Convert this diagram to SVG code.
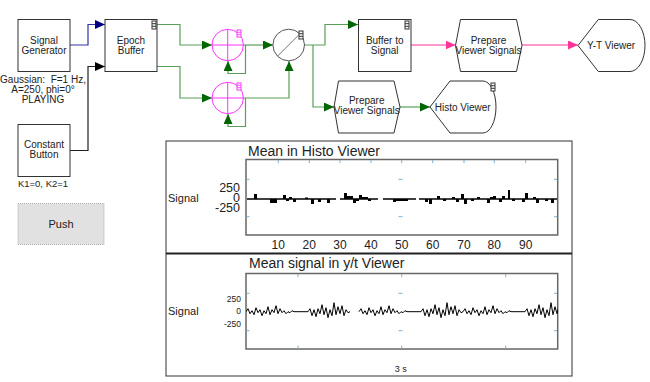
<svg xmlns="http://www.w3.org/2000/svg" width="650" height="382" viewBox="0 0 650 382">
<style>
text{font-family:"Liberation Sans",Arial,sans-serif;fill:#222}
.n{font-size:10px;text-anchor:middle}
.box{fill:#fff;stroke:#333;stroke-width:1}
.icon{fill:#fff;stroke:#333;stroke-width:1}
.g{fill:none;stroke:#5a9e5a;stroke-width:1.2}
.p{fill:none;stroke:#ff3399;stroke-width:1.2}
.add{fill:none;stroke:#ff33ff;stroke-width:1}
.tk{stroke:#7ab0d0;stroke-width:1}
.plot{fill:#fff;stroke:#666;stroke-width:1.5}
</style>
<defs>
<marker id="ag" markerUnits="userSpaceOnUse" markerWidth="11" markerHeight="10" refX="10" refY="4.5" orient="auto"><path d="M0,0 L10,4.5 L0,9 Z" fill="#006600"/></marker>
<marker id="ap" markerUnits="userSpaceOnUse" markerWidth="11" markerHeight="10" refX="10" refY="4.5" orient="auto"><path d="M0,0 L10,4.5 L0,9 Z" fill="#ff3399"/></marker>
<marker id="ab" markerUnits="userSpaceOnUse" markerWidth="11" markerHeight="10" refX="10" refY="4.5" orient="auto"><path d="M0,0 L10,4.5 L0,9 Z" fill="#000080"/></marker>
<marker id="ak" markerUnits="userSpaceOnUse" markerWidth="11" markerHeight="10" refX="10" refY="4.5" orient="auto"><path d="M0,0 L10,4.5 L0,9 Z" fill="#000"/></marker>
<g id="ico"><rect class="icon" x="0" y="0" width="4" height="8"/><path d="M0,2.7 H4 M0,5.3 H4" stroke="#333" stroke-width="1"/></g>
<clipPath id="c2"><rect x="246" y="273" width="312" height="76"/></clipPath>
</defs>
<rect width="650" height="382" fill="#fff"/>

<g id="connectors">
<path d="M70 45 H88 V24.5 H105" fill="none" stroke="#3333aa" stroke-width="1.2" marker-end="url(#ab)"/>
<path d="M70 150.5 H88 V66.5 H105" fill="none" stroke="#222" stroke-width="1.2" marker-end="url(#ak)"/>
<path class="g" d="M157 24.5 H180 V45 H212" marker-end="url(#ag)"/>
<path class="g" d="M157 66.5 H180 V98 H212" marker-end="url(#ag)"/>
<path class="g" d="M243.5 45 H273" marker-end="url(#ag)"/>
<path class="g" d="M245.5 45 V73.5 H228 V61" marker-end="url(#ag)"/>
<path class="g" d="M243.5 98 H289 V61" marker-end="url(#ag)"/>
<path class="g" d="M245.5 98 V126.5 H228 V114" marker-end="url(#ag)"/>
<path class="g" d="M304.5 45 H325 V24.5 H358" marker-end="url(#ag)"/>
<path class="g" d="M313 45 V107 H334" marker-end="url(#ag)"/>
<path class="p" d="M411 45 H455.5" marker-end="url(#ap)"/>
<path class="p" d="M522 45 H578" marker-end="url(#ap)"/>
<path class="g" d="M400 107 H430" marker-end="url(#ag)"/>
</g>

<g id="signal-generator">
<rect class="box" x="18" y="19.5" width="52" height="52"/>
<text class="n" x="44" y="43.5">Signal</text>
<text class="n" x="44" y="53.5">Generator</text>
<text class="n" x="43" y="82.5">Gaussian:&#160; F=1 Hz,</text>
<text class="n" x="43" y="92.5">A=250, phi=0°</text>
<text class="n" x="43" y="102.5">PLAYING</text>
</g>

<g id="constant-button">
<rect class="box" x="18" y="124.5" width="52" height="52"/>
<text class="n" x="44" y="147.5">Constant</text>
<text class="n" x="44" y="157.5">Button</text>
<text class="n" x="43" y="186.5" style="font-size:9.5px">K1=0, K2=1</text>
</g>

<g id="push-button">
<rect x="18" y="203.5" width="86" height="41" fill="#e1e1e1" stroke="#aaa" stroke-width="1" stroke-dasharray="1,1"/>
<text class="n" x="61" y="228" style="font-size:11px">Push</text>
</g>

<g id="epoch-buffer">
<rect class="box" x="105" y="19.5" width="52" height="52"/>
<text class="n" x="131" y="43.5">Epoch</text>
<text class="n" x="131" y="53.5">Buffer</text>
<use href="#ico" x="152" y="21"/>
</g>

<g id="adder-1">
<circle class="add" cx="227.7" cy="45" r="15.7"/>
<path class="add" d="M212 45 H243.4 M227.7 29.3 V60.7"/>
<rect x="237" y="30" width="4" height="7" fill="#fff" stroke="#ff33ff" stroke-width="1"/>
<path d="M237 32.3 H241 M237 34.6 H241" stroke="#ff33ff" stroke-width="0.8"/>
</g>

<g id="adder-2">
<circle class="add" cx="227.7" cy="98" r="15.7"/>
<path class="add" d="M212 98 H243.4 M227.7 82.3 V113.7"/>
<rect x="237" y="83" width="4" height="7" fill="#fff" stroke="#ff33ff" stroke-width="1"/>
<path d="M237 85.3 H241 M237 87.6 H241" stroke="#ff33ff" stroke-width="0.8"/>
</g>

<g id="divider">
<circle cx="288.7" cy="45" r="15.8" fill="#fff" stroke="#555" stroke-width="1"/>
<path d="M277.5 56.2 L299.9 33.8" stroke="#777" stroke-width="1"/>
<use href="#ico" x="299" y="31"/>
</g>

<g id="buffer-to-signal">
<rect class="box" x="358.5" y="19.5" width="52.5" height="52"/>
<text class="n" x="384.7" y="43.5">Buffer to</text>
<text class="n" x="384.7" y="53.5">Signal</text>
<use href="#ico" x="405" y="21"/>
</g>

<g id="prepare-viewer-signals-1">
<path class="box" d="M455.5 45.5 L460.5 19.5 H516.5 L522 45.5 L516.5 71.5 H460.5 Z"/>
<text class="n" x="488.5" y="43.5">Prepare</text>
<text class="n" x="488.5" y="53.5">Viewer Signals</text>
</g>

<g id="yt-viewer">
<path class="box" d="M578 45.5 L598.3 19.5 H630 A15 26 0 0 1 630 71.5 H598.3 Z"/>
<text class="n" x="611" y="48.5">Y-T Viewer</text>
</g>

<g id="prepare-viewer-signals-2">
<path class="box" d="M334 107 L338.5 81 H394 L400 107 L394 133 H338.5 Z"/>
<text class="n" x="366.7" y="103.5">Prepare</text>
<text class="n" x="366.7" y="113.5">Viewer Signals</text>
</g>

<g id="histo-viewer">
<path class="box" d="M430 107 L450 81 H483 A13 26 0 0 1 483 133 H450 Z"/>
<text class="n" x="462.7" y="110.5">Histo Viewer</text>
<use href="#ico" x="491" y="83"/>
</g>

<g id="charts">
<rect x="166" y="141" width="406" height="235" fill="#fff" stroke="#333" stroke-width="1"/>
<line x1="166" y1="253.5" x2="572" y2="253.5" stroke="#222" stroke-width="2"/>

<text x="248" y="156" style="font-size:14px">Mean in Histo Viewer</text>
<rect class="plot" x="246" y="159.5" width="311.7" height="75.5"/>
<g class="tk">
<path d="M278.3 160 v3 M309.3 160 v3 M340 160 v3 M371 160 v3 M401.7 160 v3 M432.7 160 v3 M464 160 v3 M494.3 160 v3 M525.7 160 v3"/>
<path d="M246.5 179.3 h3 M246.5 216.7 h3 M398.5 179.3 h4 M398.5 216.7 h4 M554 179.3 h3 M554 216.7 h3"/>
</g>
<g id="histo-bars" fill="#000">
<path d="M247 199 H336 M340 199 H378 M383 199 H416 M419 199 H557" stroke="#000" stroke-width="1.5"/>
<rect x="254" y="194" width="3" height="5"/>
<rect x="270" y="199" width="7" height="4"/>
<rect x="283" y="195" width="3" height="4"/>
<rect x="286" y="199" width="3" height="2"/>
<rect x="289" y="197" width="3" height="2"/>
<rect x="293" y="199" width="3" height="3"/>
<rect x="305" y="197.5" width="3" height="1.5"/>
<rect x="311" y="199" width="3" height="5"/>
<rect x="318" y="199" width="3" height="3"/>
<rect x="327" y="199" width="3" height="4"/>
<rect x="344" y="193" width="3" height="6"/>
<rect x="347" y="196" width="6" height="3"/>
<rect x="353" y="199" width="3" height="4"/>
<rect x="356" y="199" width="3" height="2"/>
<rect x="359" y="195" width="3" height="4"/>
<rect x="362" y="197" width="6" height="2"/>
<rect x="368" y="199" width="3" height="2"/>
<rect x="393" y="199" width="3" height="3"/>
<rect x="396" y="199" width="12" height="2"/>
<rect x="425" y="199" width="3" height="3"/>
<rect x="429" y="199" width="3" height="5"/>
<rect x="437" y="196" width="3" height="3"/>
<rect x="443" y="199" width="3" height="2"/>
<rect x="452" y="197" width="3" height="2"/>
<rect x="456" y="199" width="3" height="3"/>
<rect x="461" y="194" width="3" height="5"/>
<rect x="464" y="199" width="3" height="5"/>
<rect x="471" y="199" width="3" height="2"/>
<rect x="477" y="197" width="3" height="2"/>
<rect x="487" y="199" width="3" height="4"/>
<rect x="490" y="197" width="3" height="2"/>
<rect x="493" y="196" width="3" height="3"/>
<rect x="499" y="199" width="3" height="3"/>
<rect x="502" y="196" width="3" height="3"/>
<rect x="508" y="190" width="2" height="9"/>
<rect x="512" y="199" width="3" height="2"/>
<rect x="525" y="193" width="3" height="6"/>
<rect x="522" y="199" width="3" height="3"/>
<rect x="533" y="197" width="3" height="2"/>
<rect x="536" y="199" width="3" height="4"/>
<rect x="545" y="199" width="3" height="2"/>
<rect x="551" y="199" width="3" height="4"/>
</g>
<text x="168" y="201.7" style="font-size:11px">Signal</text>
<g style="font-size:12.5px;text-anchor:end">
<text x="240" y="191.5">250</text>
<text x="240" y="202">0</text>
<text x="240" y="212">-250</text>
</g>
<g style="font-size:12px;text-anchor:middle">
<text x="278.3" y="249">10</text><text x="309.3" y="249">20</text><text x="340" y="249">30</text>
<text x="371" y="249">40</text><text x="401.7" y="249">50</text><text x="432.7" y="249">60</text>
<text x="464" y="249">70</text><text x="494.3" y="249">80</text><text x="525.7" y="249">90</text>
</g>

<text x="249" y="268" style="font-size:14px">Mean signal in y/t Viewer</text>
<rect class="plot" x="246" y="273.5" width="311.7" height="75.5"/>
<g class="tk">
<path d="M298 274 v3 M401.7 274 v3 M505.7 274 v3 M298 348.5 v-3 M401.7 348.5 v-3 M505.7 348.5 v-3"/>
<path d="M246.5 293.3 h3 M246.5 330.7 h3 M398.5 293.3 h4 M398.5 330.7 h4 M554 293.3 h3 M554 330.7 h3"/>
</g>
<g clip-path="url(#c2)">
<path id="tr" fill="none" stroke="#000" stroke-width="1" transform="translate(246,311.7)" d="M0 0 L2 -3 L4 2 L6 -1 L8 3 L10 -4 L12 1 L14 -2 L16 4 L18 -1 L20 2 L22 -5 L24 3 L26 -2 L28 1 L30 -6 L32 2 L34 -3 L36 1 L38 -1 L40 2 L42 0 L44 1 L46 -1 L48 0 L62 0 L64 -3 L66 4 L68 -2 L70 5 L72 -3 L74 2 L76 -7 L78 3 L80 -4 L82 6 L84 -2 L86 4 L88 -9 L90 3 L92 -5 L94 2 L96 -6 L98 4 L100 -2 L102 1 L104 0"/>
<use href="#tr" x="113"/>
<use href="#tr" x="217"/>
</g>
<text x="168" y="315" style="font-size:11px">Signal</text>
<g style="font-size:8.5px;text-anchor:end">
<text x="241" y="301.7">250</text>
<text x="241" y="314.3">0</text>
<text x="241" y="326.7">-250</text>
</g>
<text x="400.7" y="372" style="font-size:9px;text-anchor:middle">3 s</text>
</g>
</svg>
